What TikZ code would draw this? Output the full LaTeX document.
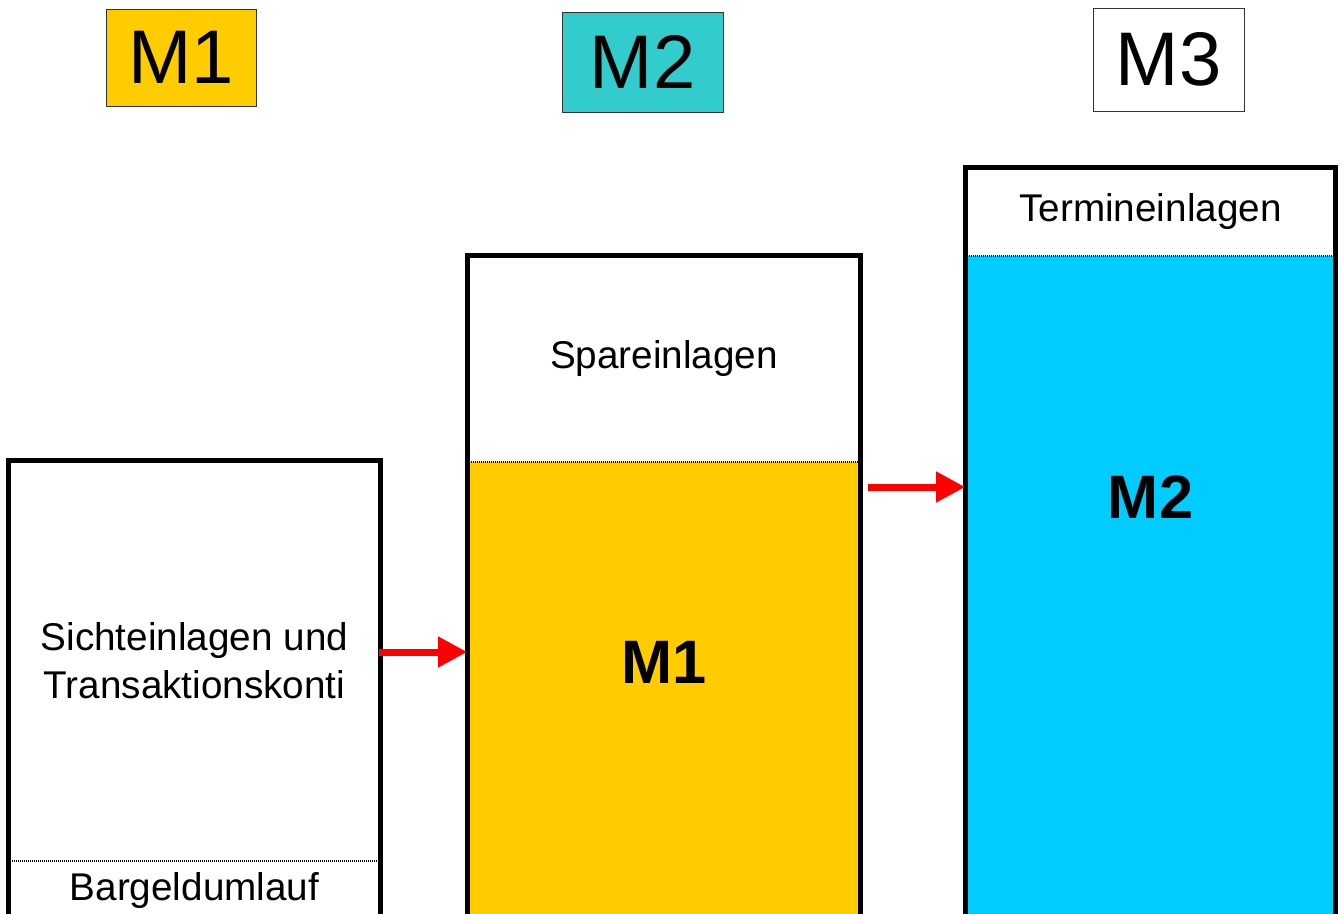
\documentclass[tikz,border=0pt]{standalone}
\usepackage{fontspec}
\setmainfont{Liberation Sans}
\usetikzlibrary{arrows.meta}
\definecolor{mgold}{HTML}{FFCC00}
\definecolor{mteal}{HTML}{33CCCC}
\definecolor{mcyan}{HTML}{00CCFF}
\begin{document}
\begin{tikzpicture}[x=0.75pt,y=-0.75pt,
    topbox/.style={draw=black!80,line width=0.75pt,inner sep=0pt,font=\fontsize{57}{60}\selectfont},
    colseg/.style={inner sep=0pt,align=center,font=\fontsize{29}{36}\selectfont},
    sumtxt/.style={font=\fontsize{46}{50}\selectfont\bfseries},
    frame/.style={line width=3.75pt},
    divider/.style={line width=1.2pt,dash pattern=on 0.75pt off 0.75pt},
    flow/.style={red,line width=5.25pt,-{Triangle[length=21.75pt,width=21.75pt]}}]
    \useasboundingbox (0,0) rectangle (1343,914);
    \clip (0,0) rectangle (1343,914);
    % Kopfzeile
    \node[topbox,fill=mgold,minimum width=112.5pt,minimum height=72.75pt] (headA) at (181,57.5) {M1};
    \node[topbox,fill=mteal,minimum width=120.75pt,minimum height=75pt] (headB) at (642.5,62) {M2};
    \node[topbox,fill=white,minimum width=113.25pt,minimum height=77.25pt] (headC) at (1168.5,59.5) {M3};
    % Saeule M1
    \node[colseg,minimum width=279pt,minimum height=300pt] (sicht) at (194.5,661) {Sichteinlagen und\\Transaktionskonti};
    \node[colseg,minimum width=279pt,minimum height=43.5pt] (bargeld) at (194.5,890) {Bargeldumlauf};
    \draw[divider] (sicht.south west) -- (sicht.south east);
    \draw[frame] (sicht.north west) rectangle (bargeld.south east);
    % Saeule M2
    \node[colseg,minimum width=294.75pt,minimum height=154.125pt] (spare) at (664,358.75) {Spareinlagen};
    \node[colseg,fill=mgold,minimum width=294.75pt,minimum height=343.125pt] (mone) at (664,690.25) {};
    \node[sumtxt] (monetxt) at (664,662) {M1};
    \draw[divider] (spare.south west) -- (spare.south east);
    \draw[frame] (spare.north west) rectangle (mone.south east);
    % Saeule M3
    \node[colseg,minimum width=277.5pt,minimum height=66pt] (termin) at (1150.5,211.5) {Termineinlagen};
    \node[colseg,fill=mcyan,minimum width=277.5pt,minimum height=497.625pt] (mtwo) at (1150.5,587.25) {};
    \node[sumtxt] (mtwotxt) at (1150.5,497) {M2};
    \draw[divider] (termin.south west) -- (termin.south east);
    \draw[frame] (termin.north west) rectangle (mtwo.south east);
    % Pfeile
    \coordinate (hopA) at (379,652);
    \coordinate (hopB) at (868,487);
    \draw[flow] (hopA) -- (hopA -| spare.west);
    \draw[flow] (hopB) -- (hopB -| mtwo.west);
\end{tikzpicture}
\end{document}
